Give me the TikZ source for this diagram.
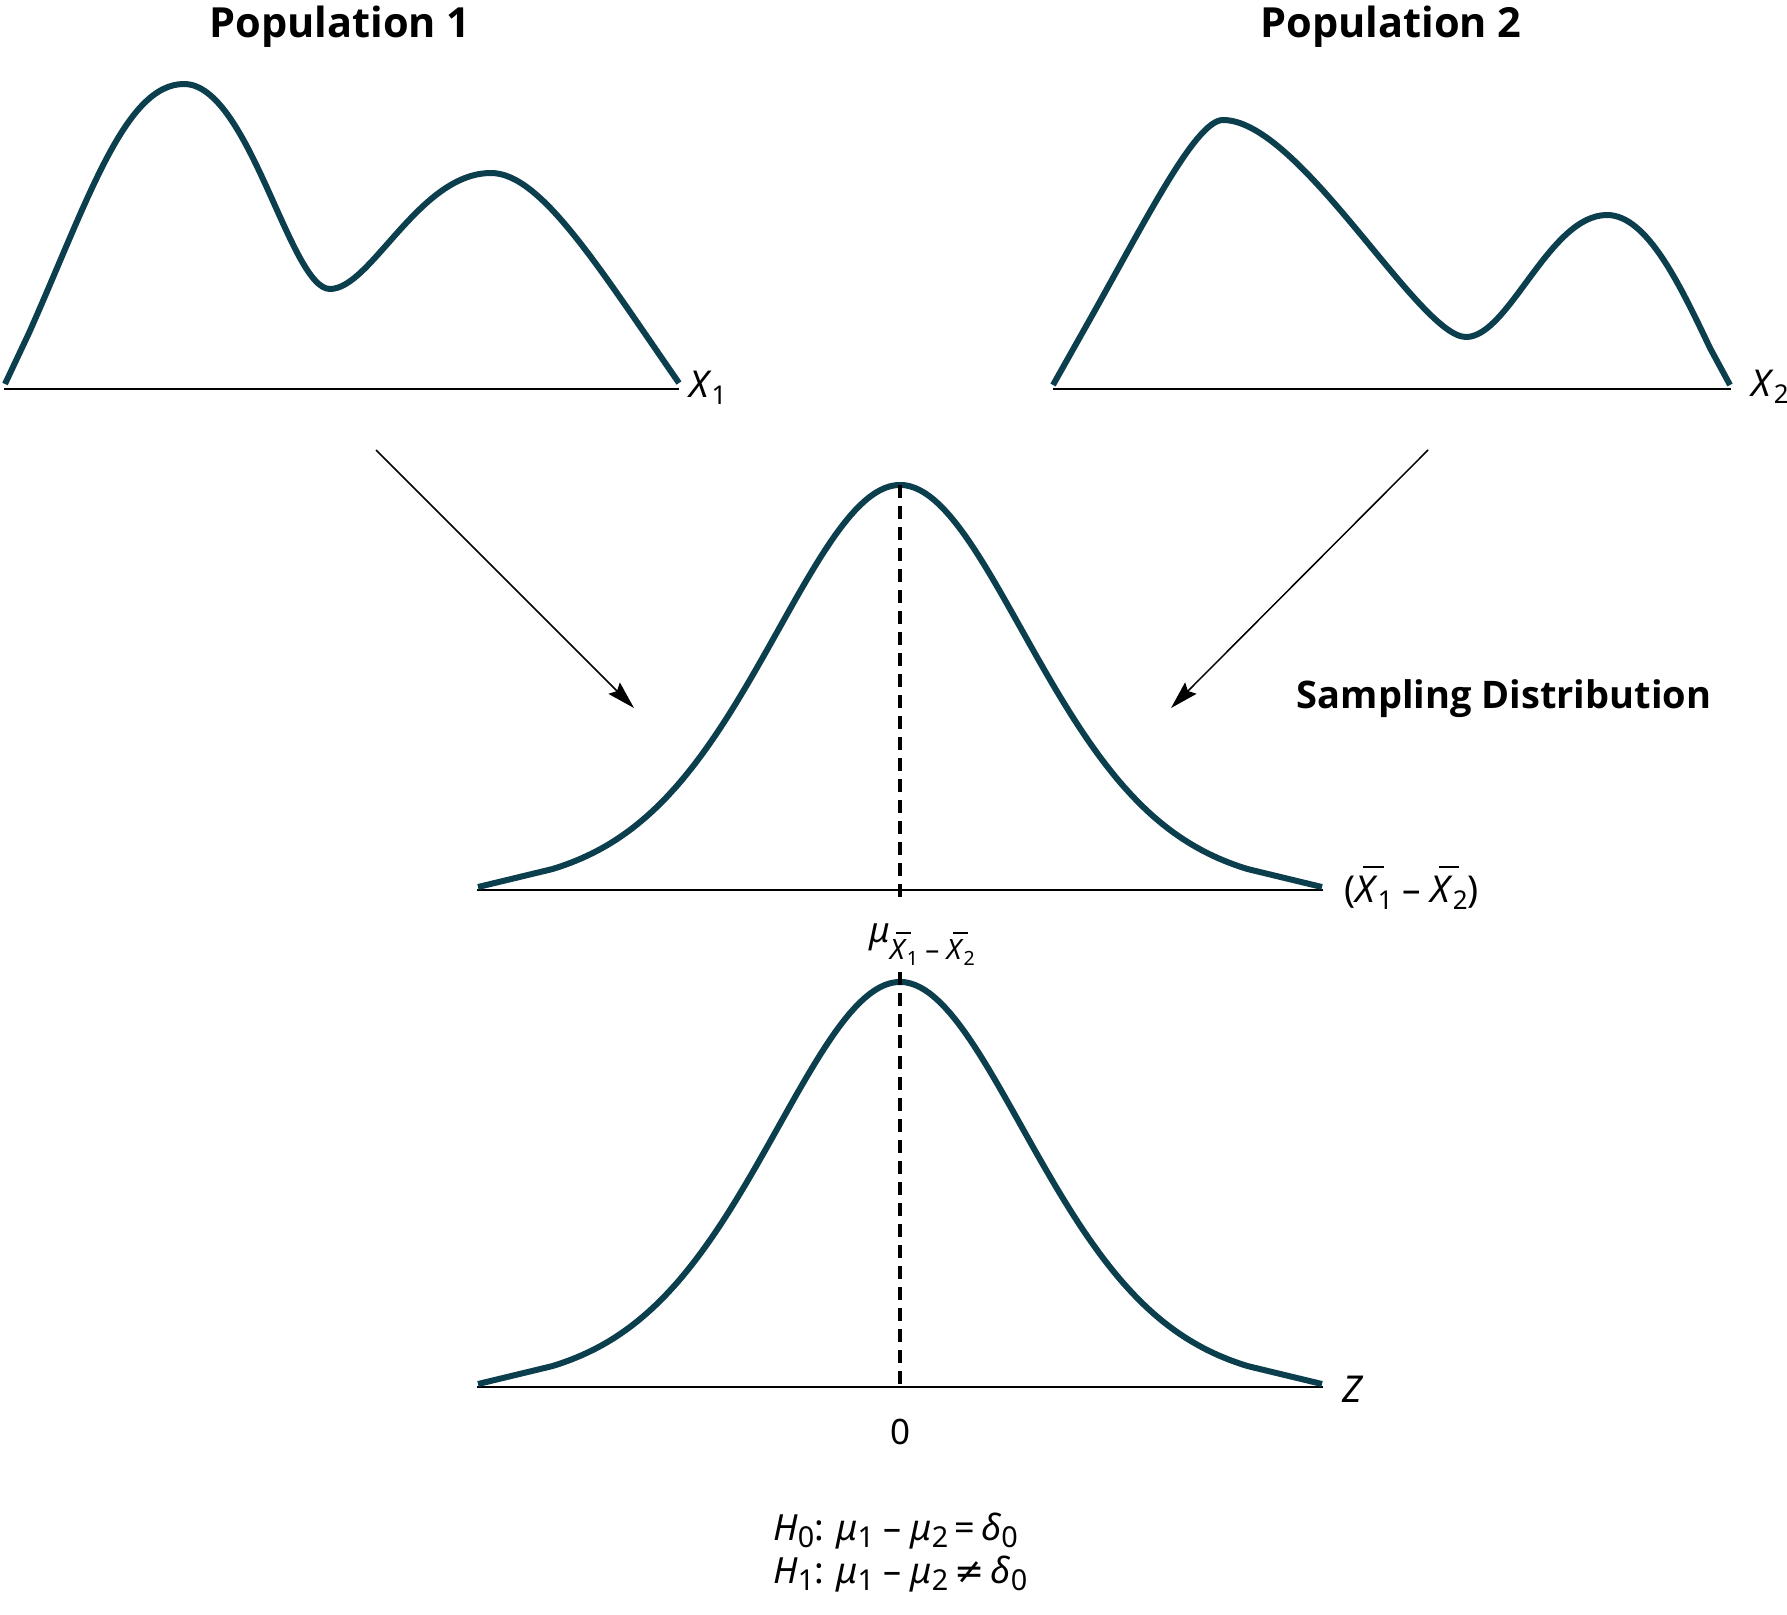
\documentclass[tikz,border=0pt]{standalone}
\usepackage{fontspec}
\setmainfont{Noto Sans}
\IfFontExistsTF{Noto Sans Bold}{\newfontfamily\boldsans{Noto Sans Bold}}{%
  \IfFontExistsTF{Open Sans Bold}{\newfontfamily\boldsans{Open Sans Bold}}{%
    \newfontfamily\boldsans{Noto Sans}[FakeBold=2.5]}}
\newfontfamily\symfont{DejaVu Sans}
\usepackage{graphicx}
\usetikzlibrary{arrows.meta}
\definecolor{curvecol}{HTML}{0C3F4E}
\newcommand\xb{\leavevmode\hbox{\rlap{\kern0.22em\raisebox{0.92em}{\rule{0.55em}{0.06em}}}\textit{X}}}
\newcommand\sbsc[2][0.7]{\raisebox{-0.2em}{\scalebox{#1}{\upshape #2}}}
\begin{document}
\begin{tikzpicture}[x=1pt,y=-1pt,
  curve/.style={draw=curvecol, line width=6pt, line join=round},
  axis/.style={draw=black, line width=2pt},
  arr/.style={draw=black, line width=1.5pt, -{Stealth[length=28pt,width=16pt,inset=4pt]}},
  guide/.style={draw=black, line width=3.5pt, dash pattern=on 13pt off 8pt},
  title/.style={font=\fontsize{41.5}{48}\boldsans, inner sep=0pt, anchor=base},
  lbl/.style={font=\fontsize{37}{44}\selectfont, inner sep=0pt, anchor=base west},
  hyp/.style={font=\fontsize{36}{42}\selectfont, inner sep=0pt, anchor=base west},
]
\useasboundingbox (0,0) rectangle (1787,1614);

% axes
\draw[axis] (4,389) -- (679,389);
\draw[axis] (1053,389) -- (1731,389);
\draw[axis] (477,890) -- (1323,890);
\draw[axis] (477,1387) -- (1323,1387);

% population 1 curve
\draw[curve] (5,384) -- (29,333)
  .. controls (88,200) and (125,84) .. (184,84)
  .. controls (249,84) and (290,289) .. (330,289)
  .. controls (371,289) and (419,173) .. (491,173)
  .. controls (541,173) and (599,268) .. (679,383);
% population 2 curve
\draw[curve] (1053,385) -- (1080,337)
  .. controls (1144,224) and (1195,120) .. (1223,120)
  .. controls (1300,120) and (1419,337) .. (1466,337)
  .. controls (1509,337) and (1549,215) .. (1607,215)
  .. controls (1647,215) and (1680,285) .. (1710,348)
  -- (1730,385);

% normal curves
\foreach \b in {890,1387}{
  \draw[curve] (478,\b-3) -- plot[domain=-3.48:3.48, samples=141, variable=\u] ({900+100*\u},{\b-405*exp(-((\u)*(\u))/(2*(1.22+0.06*abs(\u))^2))}) -- (1322,\b-3);
}

% dashed guides
\coordinate (g1a) at (900,485);
\coordinate (g1b) at (900,897);
\coordinate (g2a) at (900,972);
\coordinate (g2b) at (900,1387);
\draw[guide] (g1a) -- (g1b);
\draw[guide] (g2a) -- (g2b);

% arrows
\coordinate (a1s) at (376,450);
\coordinate (a1e) at (634,708);
\coordinate (a2s) at (1428,450);
\coordinate (a2e) at (1171,708);
\draw[arr] (a1s) -- (a1e);
\draw[arr] (a2s) -- (a2e);

% texts
\node[title] (pop1) at (340,37) {Population 1};
\node[title, font=\fontsize{38}{46}\boldsans] (samp) at (1504,708) {Sampling Distribution};
\node[title] (pop2) at (1391,37) {Population 2};
\node[lbl] (x1) at (689,397) {\textit{X}\sbsc{1}};
\node[lbl] (x2) at (1751,396) {\textit{X}\sbsc{2}};
\node[lbl] (xd) at (1344,902) {(\xb\sbsc{1} – \xb\sbsc{2})};
\node[lbl] (z) at (1342,1402) {\textit{Z}};
\node[font=\fontsize{35}{42}\selectfont, inner sep=0pt, anchor=base] (zero) at (900,1444) {0};
\node[font=\fontsize{35}{42}\selectfont, inner sep=0pt, anchor=base west] (mu) at (869,942) {\textit{μ}\raisebox{-0.5em}{\scalebox{0.8}{\xb\sbsc{1} – \xb\sbsc{2}}}};
\node[hyp] (h0) at (773,1540) {\textit{H}\sbsc[0.8]{0}: \textit{μ}\sbsc[0.8]{1} – \textit{μ}\sbsc[0.8]{2}\,=\,\textit{δ}\sbsc[0.8]{0}};
\node[hyp] (h1) at (773,1583) {\textit{H}\sbsc[0.8]{1}: \textit{μ}\sbsc[0.8]{1} – \textit{μ}\sbsc[0.8]{2}\,{\symfont ≠}\,\textit{δ}\sbsc[0.8]{0}};
\end{tikzpicture}
\end{document}
